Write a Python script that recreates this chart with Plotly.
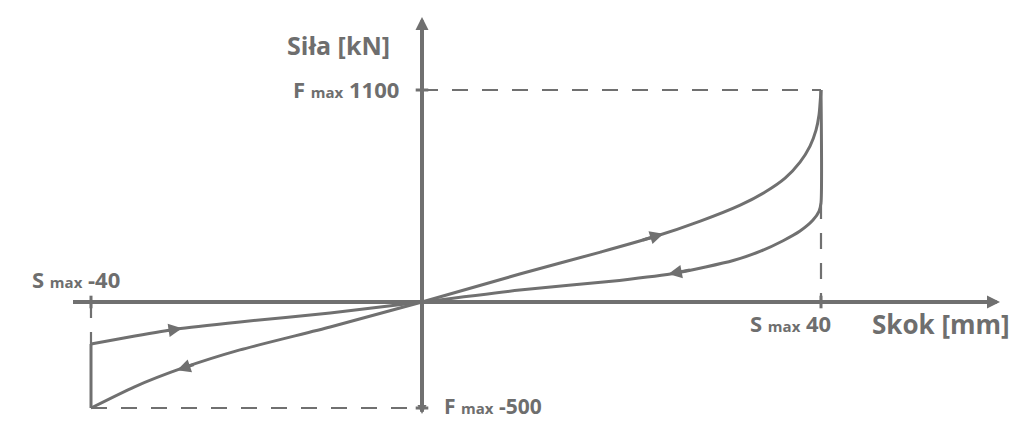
import numpy as np
import plotly.graph_objects as go

# ---- cycle data: stroke s [mm], force F [kN] ----
# positive stroke: loading branch (origin -> S max 40 / F max 1100)
s_load_pos = [0, 9.8, 17.9, 23.2, 27.9, 31.9, 34.4, 36.4, 37.9, 38.9, 39.5, 39.8, 40]
f_load_pos = [0, 145, 259, 337, 420, 503, 571, 643, 726, 809, 892, 970, 1100]

# positive stroke: drop at S max, then unloading back to the origin
s_unload_pos = [40, 40, 39.8, 39.2, 37.9, 36.2, 34.0, 31.2, 25.5, 19.8, 9.8, 0]
f_unload_pos = [1100, 514, 470, 425, 368, 318, 265, 215, 150, 112, 62, 0]

# negative stroke: return branch towards the origin
s_load_neg = [-40, -34.7, -29.6, -22.0, -11.1, 0]
f_load_neg = [-198, -160, -127, -94, -52, 0]

# negative stroke: branch from the origin to S max -40 / F max -500
s_unload_neg = [0, -11.1, -22.0, -28.9, -34.8, -40]
f_unload_neg = [0, -118, -226, -311, -401, -500]

# vertical jump at S max -40
s_jump_neg = [-40, -40]
f_jump_neg = [-500, -198]

S_MAX = {"neg": -40, "pos": 40}
F_MAX = {"neg": -500, "pos": 1100}

# flow-direction arrows: (tip stroke, tail stroke) on each branch
arrow_load_pos = (24.2, 22.0)
arrow_unload_pos = (24.7, 27.0)
arrow_load_neg = (-29.0, -31.0)
arrow_unload_neg = (-29.6, -27.4)

# ---- layout geometry (pixels) ----
W, H = 1017, 421
OX, OY = 422, 302              # where the two axes cross
PX_MM_POS, PX_MM_NEG = 9.975, 8.275
PX_KN_POS, PX_KN_NEG = 212 / 1100, 106 / 500

GRAY = "#707070"
TXT = "#6e6e6e"
FONT = "Open Sans"

x_pos_range = [-OX / PX_MM_POS, (W - OX) / PX_MM_POS]
x_neg_range = [-OX / PX_MM_NEG, (W - OX) / PX_MM_NEG]
y_pos_range = [-(H - OY) / PX_KN_POS, OY / PX_KN_POS]
y_neg_range = [-(H - OY) / PX_KN_NEG, OY / PX_KN_NEG]


def on_curve(xs, ys, x):
    xs = np.asarray(xs, float)
    ys = np.asarray(ys, float)
    o = np.argsort(xs, kind="stable")
    return float(np.interp(x, xs[o], ys[o]))


fig = go.Figure()

curve = dict(color=GRAY, width=3)
spl = dict(shape="spline", smoothing=0.6)

fig.add_trace(go.Scatter(x=s_load_pos, y=f_load_pos, mode="lines",
                         line={**curve, **spl}, xaxis="x", yaxis="y"))
fig.add_trace(go.Scatter(x=s_unload_pos, y=f_unload_pos, mode="lines",
                         line={**curve, **spl}, xaxis="x", yaxis="y"))
fig.add_trace(go.Scatter(x=s_load_neg, y=f_load_neg, mode="lines",
                         line={**curve, **spl}, xaxis="x2", yaxis="y2"))
fig.add_trace(go.Scatter(x=s_unload_neg, y=f_unload_neg, mode="lines",
                         line={**curve, **spl}, xaxis="x2", yaxis="y2"))
fig.add_trace(go.Scatter(x=s_jump_neg, y=f_jump_neg, mode="lines",
                         line=curve, xaxis="x2", yaxis="y2"))

# dashed guide lines to the extreme points
dash = dict(color=GRAY, width=2.2, dash="16px,14px")
fig.add_trace(go.Scatter(x=[0, S_MAX["pos"]], y=[F_MAX["pos"], F_MAX["pos"]],
                         mode="lines", line=dash, xaxis="x", yaxis="y"))
fig.add_trace(go.Scatter(x=[S_MAX["pos"], S_MAX["pos"]], y=[f_unload_pos[1], 0],
                         mode="lines", line=dash, xaxis="x", yaxis="y"))
fig.add_trace(go.Scatter(x=[S_MAX["neg"], 0], y=[F_MAX["neg"], F_MAX["neg"]],
                         mode="lines", line=dash, xaxis="x2", yaxis="y2"))
fig.add_trace(go.Scatter(x=[S_MAX["neg"], S_MAX["neg"]], y=[0, f_jump_neg[1]],
                         mode="lines", line=dash, xaxis="x2", yaxis="y2"))

# main axes
fig.add_shape(type="line", xref="paper", yref="y", x0=73 / W, x1=994 / W, y0=0, y1=0,
              line=dict(color=GRAY, width=4))
fig.add_shape(type="line", xref="x", yref="paper", x0=0, x1=0,
              y0=(H - 410) / H, y1=(H - 22) / H, line=dict(color=GRAY, width=4))

# tick marks at the extremes
tick_ns = dict(symbol="line-ns-open", size=9, color=GRAY, line=dict(color=GRAY, width=3))
tick_ew = dict(symbol="line-ew-open", size=9, color=GRAY, line=dict(color=GRAY, width=3))
fig.add_trace(go.Scatter(x=[S_MAX["pos"]], y=[0], mode="markers", xaxis="x", yaxis="y",
                         marker=tick_ns))
fig.add_trace(go.Scatter(x=[S_MAX["neg"]], y=[0], mode="markers", xaxis="x2", yaxis="y2",
                         marker=tick_ns))
fig.add_trace(go.Scatter(x=[0], y=[F_MAX["pos"]], mode="markers", xaxis="x", yaxis="y",
                         marker=tick_ew))
fig.add_trace(go.Scatter(x=[0], y=[F_MAX["neg"]], mode="markers", xaxis="x2", yaxis="y2",
                         marker=tick_ew))

ann = []

# arrow heads of the axes
ah = dict(text="", showarrow=True, arrowhead=2, arrowcolor=GRAY, arrowwidth=4,
          arrowsize=0.65, standoff=0)
ann.append(dict(xref="paper", yref="y", x=1000 / W, y=0, ax=-16, ay=0, **ah))
ann.append(dict(xref="x", yref="paper", x=0, y=(H - 17) / H, ax=0, ay=16, **ah))
ann.append(dict(xref="x", yref="paper", x=0, y=(H - 414) / H, ax=0, ay=-10,
                **{**ah, "arrowsize": 0.45}))

# flow direction arrows on the branches
fa = dict(text="", showarrow=True, arrowhead=2, arrowcolor=GRAY, arrowwidth=3,
          arrowsize=0.9, standoff=0)
for xs, ys, (tip, tail), xr, yr in [
    (s_load_pos, f_load_pos, arrow_load_pos, "x", "y"),
    (s_unload_pos[1:], f_unload_pos[1:], arrow_unload_pos, "x", "y"),
    (s_load_neg, f_load_neg, arrow_load_neg, "x2", "y2"),
    (s_unload_neg, f_unload_neg, arrow_unload_neg, "x2", "y2"),
]:
    ann.append(dict(xref=xr, yref=yr, axref=xr, ayref=yr,
                    x=tip, y=on_curve(xs, ys, tip),
                    ax=tail, ay=on_curve(xs, ys, tail), **fa))

big = dict(family=FONT, size=22, color=TXT, weight="bold")
small = "<span style='font-size:15px'>max</span>"

ann.append(dict(xref="x", yref="y", x=0, y=F_MAX["pos"], text="Siła [kN]",
                xanchor="right", yanchor="middle", xshift=-30, yshift=45,
                showarrow=False, font={**big, "size": 25}))
ann.append(dict(xref="x", yref="y", x=0, y=F_MAX["pos"],
                text=f"F {small} {F_MAX['pos']}",
                xanchor="right", yanchor="middle", xshift=-21, yshift=1,
                showarrow=False, font=big))
ann.append(dict(xref="x2", yref="y2", x=0, y=F_MAX["neg"],
                text=f"F {small} {F_MAX['neg']}",
                xanchor="left", yanchor="middle", xshift=20, yshift=2,
                showarrow=False, font={**big, "size": 21}))
ann.append(dict(xref="x2", yref="y2", x=S_MAX["neg"], y=0,
                text=f"S {small} {S_MAX['neg']}",
                xanchor="center", yanchor="middle", xshift=-15, yshift=23,
                showarrow=False, font=big))
ann.append(dict(xref="x", yref="y", x=S_MAX["pos"], y=0,
                text=f"S {small} {S_MAX['pos']}",
                xanchor="center", yanchor="middle", xshift=-31, yshift=-21,
                showarrow=False, font=big))
ann.append(dict(xref="paper", yref="y", x=1, y=0, text="Skok [mm]",
                xanchor="right", yanchor="middle", xshift=-5, yshift=-22,
                showarrow=False, font={**big, "size": 26}))

hidden = dict(visible=False, fixedrange=True)
fig.update_layout(
    width=W, height=H,
    margin=dict(l=0, r=0, t=0, b=0),
    paper_bgcolor="white", plot_bgcolor="white",
    showlegend=False,
    xaxis=dict(domain=[0, 1], range=x_pos_range, **hidden),
    yaxis=dict(domain=[0, 1], range=y_pos_range, **hidden),
    xaxis2=dict(domain=[0, 1], range=x_neg_range, overlaying="x", **hidden),
    yaxis2=dict(domain=[0, 1], range=y_neg_range, overlaying="y", **hidden),
    annotations=ann,
)

fig.write_html("out.html")
